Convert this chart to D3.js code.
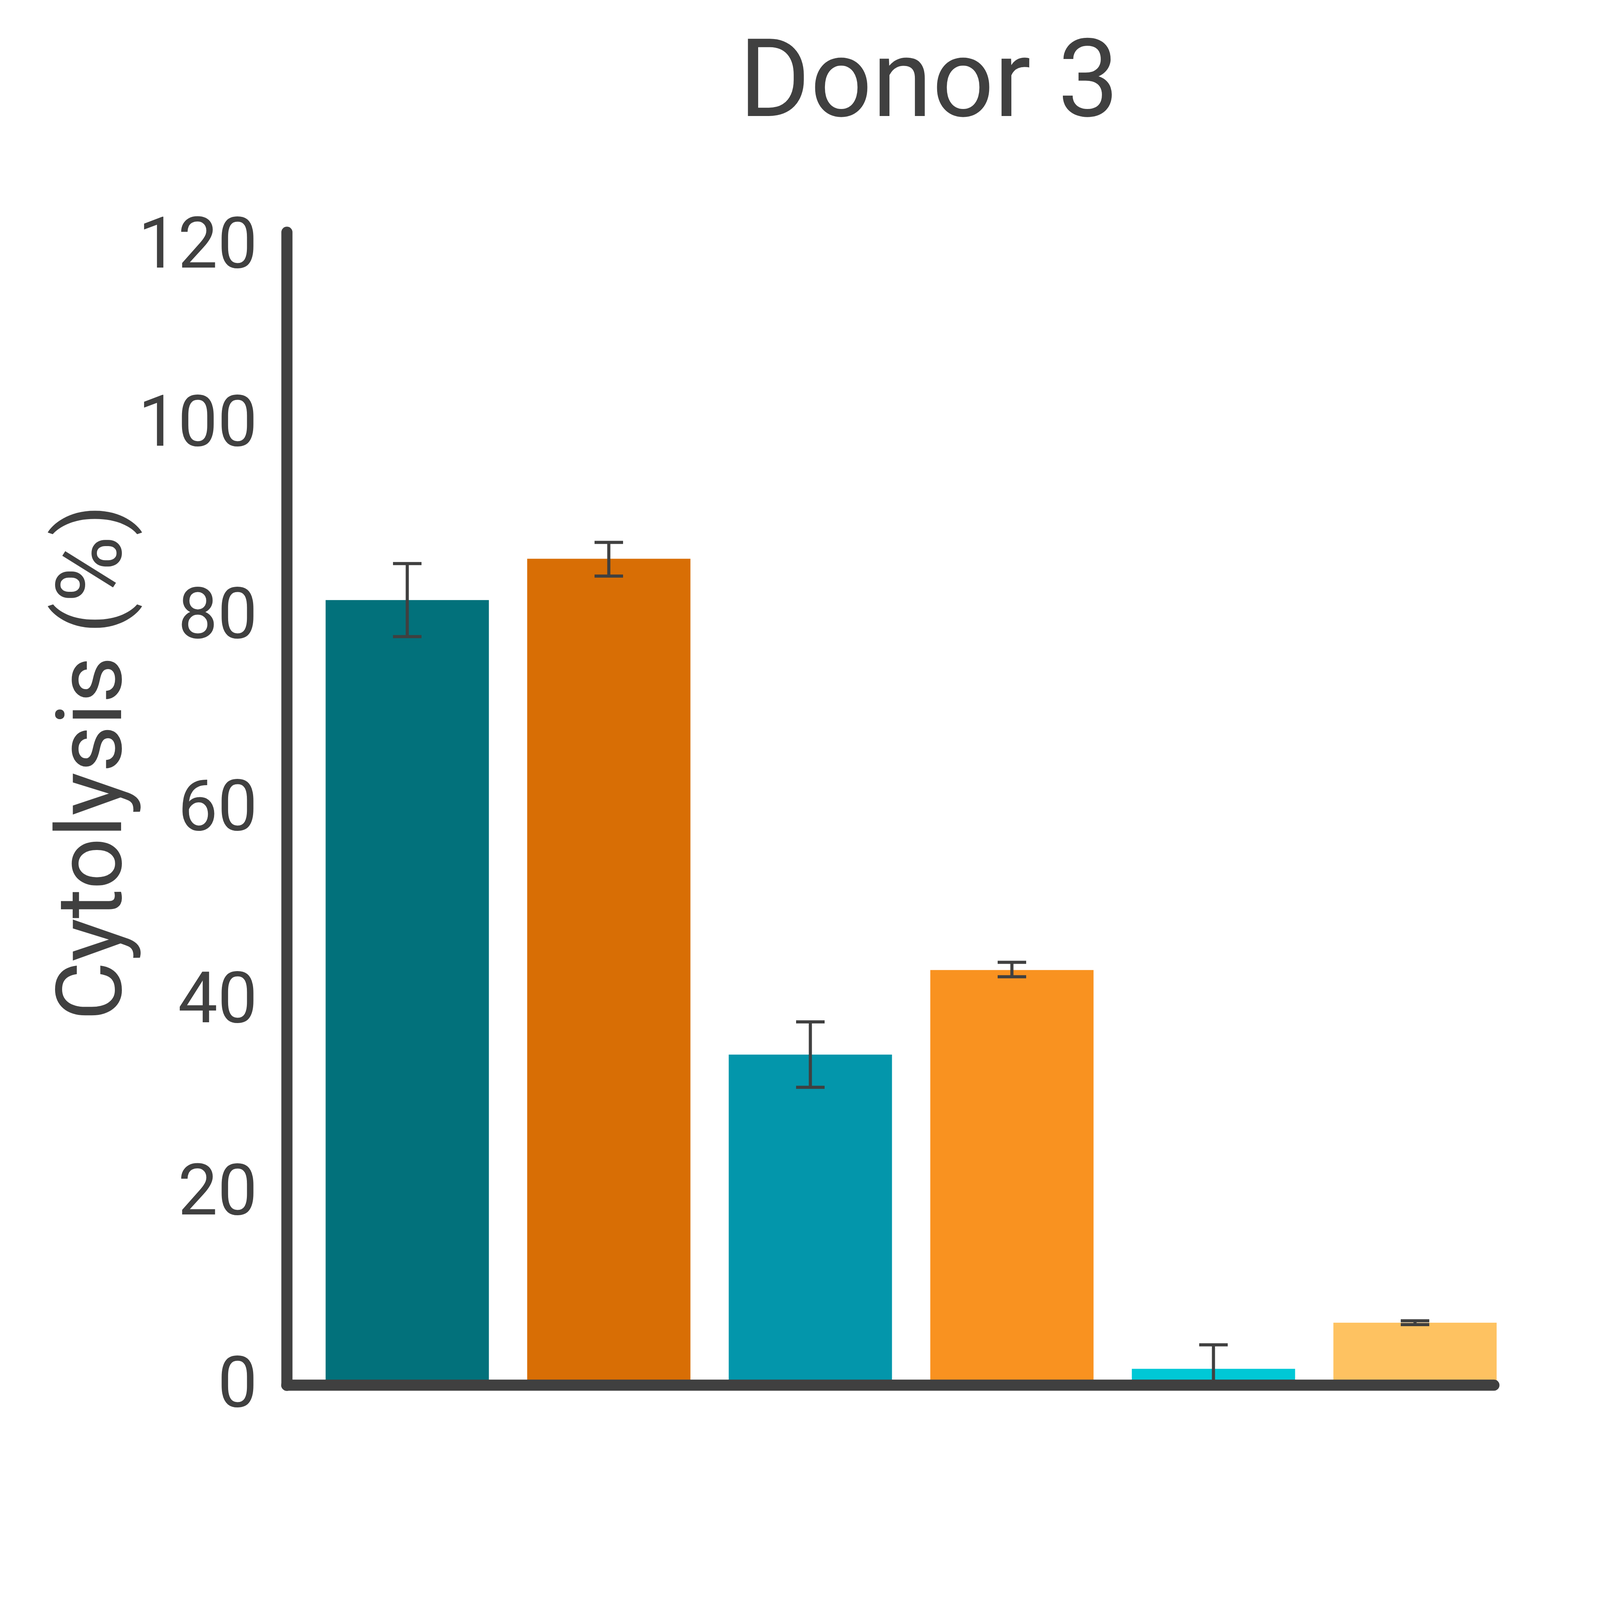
<!DOCTYPE html>
<html>
<head>
<meta charset="utf-8">
<script src="https://cdn.jsdelivr.net/npm/d3@7"></script>
<style>
  html, body { margin: 0; padding: 0; background: #fff; }
  svg { display: block; }
</style>
</head>
<body>
<svg id="chart"></svg>
<script>
// Donor 3 cytolysis, bars with +/- error bars
const groups = ['g1', 'g2', 'g3', 'g4', 'g5', 'g6'];
const means = [81.7, 86.0, 34.4, 43.2, 1.7, 6.5];
const errHigh = [85.5, 87.7, 37.8, 44.0, 4.2, 6.7];
const errLow = [77.9, 84.2, 31.0, 42.5, -0.8, 6.3];
const barColors = ['#02717b', '#d86e05', '#0396ab', '#f99220', '#00c8d6', '#fec261'];
const yTicks = [0, 20, 40, 60, 80, 100, 120];

const W = 4167, H = 4167;
const ink = '#404040';
const font = 'Roboto, "Noto Sans", sans-serif';

const svg = d3.select('#chart').attr('width', W).attr('height', H);

const y = d3.scaleLinear().domain([0, 120]).range([3546, 594]);
const x = d3.scaleBand().domain(groups).range([782, 3883])
  .paddingInner(0.19).paddingOuter(0.1);
const axisX = 734;
const axisW = 28.5;

// clip so error bars stop at the baseline
svg.append('defs').append('clipPath').attr('id', 'plot-clip')
  .append('rect')
  .attr('x', axisX).attr('y', 0)
  .attr('width', W - axisX).attr('height', y(0));

const rows = groups.map((g, i) => ({
  g, mean: means[i], hi: errHigh[i], lo: errLow[i], color: barColors[i]
}));

svg.append('g')
  .selectAll('rect')
  .data(rows)
  .join('rect')
  .attr('x', (d) => x(d.g))
  .attr('width', x.bandwidth())
  .attr('y', (d) => y(d.mean))
  .attr('height', (d) => y(0) - y(d.mean))
  .attr('fill', (d) => d.color);

const capW = 73;
const err = svg.append('g')
  .attr('clip-path', 'url(#plot-clip)')
  .attr('stroke', ink)
  .attr('stroke-width', 8)
  .selectAll('g')
  .data(rows)
  .join('g')
  .attr('transform', (d) => `translate(${x(d.g) + x.bandwidth() / 2},0)`);
err.append('line')
  .attr('y1', (d) => y(d.hi)).attr('y2', (d) => y(d.lo));
err.append('line')
  .attr('x1', -capW / 2).attr('x2', capW / 2)
  .attr('y1', (d) => y(d.hi)).attr('y2', (d) => y(d.hi));
err.append('line')
  .attr('x1', -capW / 2).attr('x2', capW / 2)
  .attr('y1', (d) => y(d.lo)).attr('y2', (d) => y(d.lo));

// y axis
const yAxis = svg.append('g')
  .attr('transform', `translate(${axisX},0)`)
  .call(d3.axisLeft(y).tickValues(yTicks).tickSize(0).tickSizeOuter(0).tickPadding(75));
yAxis.select('.domain')
  .attr('stroke', ink)
  .attr('stroke-width', axisW)
  .attr('stroke-linecap', 'round');
yAxis.selectAll('.tick text')
  .attr('fill', ink)
  .attr('font-family', font)
  .attr('font-size', 181)
  .attr('dy', (d) => (d === 120 ? '0.5em' : '0.3em'));

// x axis baseline
svg.append('line')
  .attr('x1', axisX)
  .attr('x2', x(groups[groups.length - 1]) + x.bandwidth() - 7)
  .attr('y1', y(0)).attr('y2', y(0))
  .attr('stroke', ink)
  .attr('stroke-width', axisW)
  .attr('stroke-linecap', 'round');

svg.append('text')
  .attr('x', 2378)
  .attr('y', 297)
  .attr('text-anchor', 'middle')
  .attr('font-family', font)
  .attr('font-size', 278)
  .attr('fill', ink)
  .text('Donor 3');

svg.append('text')
  .attr('transform', 'translate(310,1952) rotate(-90)')
  .attr('text-anchor', 'middle')
  .attr('font-family', font)
  .attr('font-size', 233)
  .attr('fill', ink)
  .text('Cytolysis (%)');
</script>
</body>
</html>
